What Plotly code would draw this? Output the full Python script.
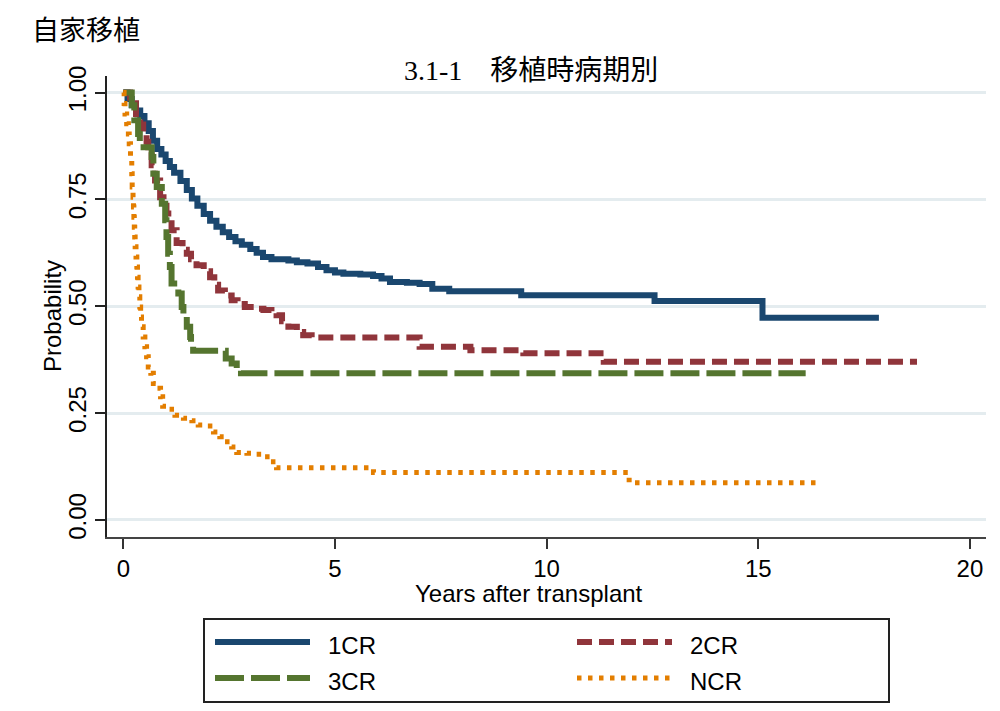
import plotly.graph_objects as go

# ---------------- data ----------------
series_names = ["1CR", "2CR", "3CR", "NCR"]

t_1cr = [0, 0.1, 0.2, 0.3, 0.4, 0.5, 0.6, 0.7, 0.8, 0.9, 1.0, 1.1, 1.2, 1.35, 1.5, 1.62,
         1.75, 1.9, 2.05, 2.2, 2.35, 2.5, 2.65, 2.8, 3.0, 3.15, 3.3, 3.5, 3.9, 4.1, 4.35,
         4.6, 4.8, 5.0, 5.2, 5.6, 5.9, 6.1, 6.3, 6.7, 7.0, 7.3, 7.7, 9.4, 12.55, 15.1, 17.85]
s_1cr = [1.0, 0.985, 0.97, 0.958, 0.945, 0.928, 0.91, 0.887, 0.868, 0.855, 0.84, 0.826,
         0.812, 0.793, 0.772, 0.752, 0.735, 0.716, 0.70, 0.686, 0.673, 0.662, 0.652, 0.644,
         0.634, 0.625, 0.615, 0.610, 0.607, 0.603, 0.600, 0.592, 0.584, 0.579, 0.576,
         0.574, 0.571, 0.565, 0.557, 0.555, 0.552, 0.541, 0.535, 0.526, 0.512, 0.473, 0.473]

t_2cr = [0, 0.16, 0.3, 0.4, 0.47, 0.55, 0.59, 0.67, 0.75, 0.87, 0.95, 1.02, 1.14, 1.26,
         1.4, 1.5, 1.6, 1.73, 1.9, 2.05, 2.15, 2.24, 2.4, 2.56, 2.7, 2.87, 3.1, 3.31, 3.5,
         3.62, 3.75, 3.9, 4.1, 4.25, 4.45, 7.0, 8.2, 9.45, 11.35, 18.75]
s_2cr = [1.0, 0.975, 0.95, 0.925, 0.903, 0.885, 0.872, 0.83, 0.794, 0.755, 0.735, 0.717,
         0.678, 0.648, 0.632, 0.623, 0.61, 0.596, 0.582, 0.568, 0.55, 0.537, 0.525, 0.514,
         0.505, 0.498, 0.494, 0.491, 0.484, 0.479, 0.465, 0.452, 0.440, 0.432, 0.427,
         0.405, 0.397, 0.390, 0.370, 0.370]

t_3cr = [0, 0.2, 0.26, 0.35, 0.39, 0.67, 0.71, 0.79, 0.91, 0.99, 1.02, 1.06, 1.10, 1.14,
         1.30, 1.38, 1.42, 1.50, 1.58, 1.60, 1.65, 2.42, 2.56, 2.68, 2.78, 16.12]
s_3cr = [1.0, 0.97, 0.935, 0.903, 0.872, 0.849, 0.81, 0.779, 0.740, 0.701, 0.662, 0.623,
         0.592, 0.553, 0.530, 0.498, 0.475, 0.452, 0.428, 0.413, 0.396, 0.378, 0.366,
         0.350, 0.343, 0.343]

t_ncr = [0, 0.02, 0.04, 0.08, 0.12, 0.14, 0.17, 0.20, 0.21, 0.23, 0.24, 0.25, 0.26, 0.27,
         0.28, 0.30, 0.32, 0.335, 0.35, 0.37, 0.39, 0.41, 0.43, 0.47, 0.51, 0.55, 0.59,
         0.65, 0.71, 0.80, 0.88, 0.93, 1.06, 1.22, 1.42, 1.62, 1.77, 1.97, 2.13, 2.28,
         2.40, 2.56, 2.68, 2.92, 3.15, 3.32, 3.47, 3.62, 5.91, 11.95, 16.45]
s_ncr = [1.0, 0.974, 0.950, 0.927, 0.903, 0.880, 0.849, 0.810, 0.779, 0.755, 0.732, 0.708,
         0.685, 0.662, 0.639, 0.615, 0.592, 0.568, 0.545, 0.522, 0.498, 0.475, 0.452,
         0.428, 0.405, 0.382, 0.358, 0.343, 0.319, 0.308, 0.288, 0.266, 0.259, 0.245,
         0.238, 0.232, 0.222, 0.220, 0.206, 0.195, 0.183, 0.171, 0.158, 0.156, 0.154,
         0.148, 0.136, 0.122, 0.111, 0.087, 0.087]

x_ticks = [0, 5, 10, 15, 20]
y_ticks = [0.0, 0.25, 0.5, 0.75, 1.0]
y_tick_labels = ["0.00", "0.25", "0.50", "0.75", "1.00"]

corner_label = "自家移植"
title_text = "3.1-1　移植時病期別"
x_title = "Years after transplant"
y_title = "Probability"

# ---------------- styles ----------------
colors = ["#1a476f", "#90353b", "#55752f", "#e37e00"]
dashes = ["solid", "15px,7px", "29px,7px", "4.5px,6.5px"]
widths = [6, 6, 6, 5]

W, H = 1000, 711
OFF = 8  # the page places the figure 8 px in from the top-left corner
L, R, T, B = 107, 986, 76, 537  # plot area in screen pixels


def px_x(px):
    return (px - L) / (R - L)


def px_y(py):
    return (B - py) / (B - T)


FONT = "Liberation Sans, Arial, sans-serif"

fig = go.Figure()
data = [(t_1cr, s_1cr), (t_2cr, s_2cr), (t_3cr, s_3cr), (t_ncr, s_ncr)]
for name, (t, s), c, d, w in zip(series_names, data, colors, dashes, widths):
    fig.add_trace(go.Scatter(
        x=t, y=s, mode="lines", name=name, line_shape="hv",
        line=dict(color=c, width=w, dash=d), showlegend=False))

fig.update_layout(
    width=W, height=H,
    margin=dict(l=L - OFF, r=W - R + OFF, t=T - OFF, b=H - B + OFF, pad=0),
    paper_bgcolor="white", plot_bgcolor="white",
    font=dict(family=FONT, size=24, color="black"),
    xaxis=dict(
        range=[-0.385, 20.38], tickvals=x_ticks, ticktext=[str(v) for v in x_ticks],
        showgrid=False, zeroline=False, showline=True, linecolor="#444", linewidth=2,
        ticks="outside", ticklen=10, tickwidth=2, tickcolor="#333",
        tickfont=dict(size=24, family=FONT), ticklabelstandoff=-1),
    yaxis=dict(
        range=[-0.0398, 1.0386], tickvals=y_ticks, ticktext=y_tick_labels,
        tickangle=-90, showgrid=True, gridcolor="#e4ecef", gridwidth=3,
        zeroline=False, showline=True, linecolor="#222", linewidth=2,
        ticks="outside", ticklen=10, tickwidth=2, tickcolor="#222",
        tickfont=dict(size=24, family=FONT), ticklabelstandoff=-1),
)

shapes = []
annotations = []

# outer light frame of the graph region
shapes.append(dict(type="rect", xref="paper", yref="paper",
                   x0=px_x(7), x1=px_x(1030), y0=px_y(740), y1=px_y(6),
                   line=dict(color="#e6eef2", width=2), layer="below"))

# titles
annotations.append(dict(text=corner_label, xref="paper", yref="paper",
                        x=px_x(31), y=px_y(8), xanchor="left", yanchor="top",
                        borderpad=0, showarrow=False,
                        font=dict(family="Noto Sans CJK JP", size=27)))
annotations.append(dict(text=title_text, xref="paper", yref="paper",
                        x=px_x(531), y=px_y(70), xanchor="center", yanchor="middle",
                        showarrow=False,
                        font=dict(family="Liberation Serif, Noto Sans CJK JP", size=28)))
annotations.append(dict(text=x_title, xref="paper", yref="paper",
                        x=px_x(529), y=px_y(593), xanchor="center", yanchor="middle",
                        showarrow=False, font=dict(family=FONT, size=24)))
annotations.append(dict(text=y_title, xref="paper", yref="paper", textangle=-90,
                        x=px_x(52), y=px_y(316), xanchor="center", yanchor="middle",
                        showarrow=False, font=dict(family=FONT, size=24)))

# legend box (drawn by hand to match the reference layout)
shapes.append(dict(type="rect", xref="paper", yref="paper",
                   x0=px_x(204), x1=px_x(889), y0=px_y(702), y1=px_y(619),
                   line=dict(color="#222", width=2), fillcolor="white"))
legend_pos = [(215, 310, 326, 642), (577, 672, 688, 642),
              (215, 310, 326, 678), (577, 672, 688, 678)]
for name, c, d, w, (x0, x1, xt, yy) in zip(series_names, colors, dashes, widths, legend_pos):
    shapes.append(dict(type="line", xref="paper", yref="paper",
                       x0=px_x(x0), x1=px_x(x1), y0=px_y(yy), y1=px_y(yy),
                       line=dict(color=c, width=w, dash=d)))
    annotations.append(dict(text=name, xref="paper", yref="paper",
                            x=px_x(xt), y=px_y(yy + 3), xanchor="left", yanchor="middle",
                            showarrow=False, font=dict(family=FONT, size=24)))

fig.update_layout(shapes=shapes, annotations=annotations)
fig.write_html("out.html")
